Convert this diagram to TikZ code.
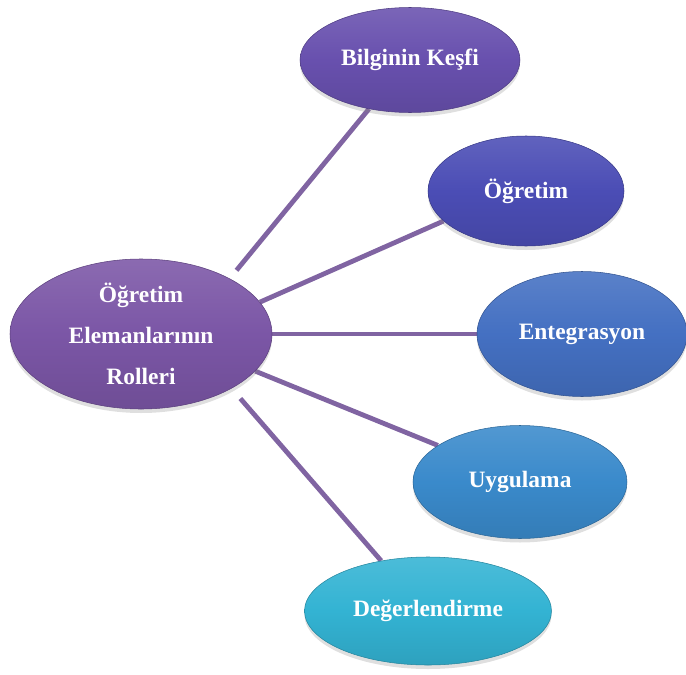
\documentclass[tikz,border=0pt]{standalone}
\usepackage{fontspec}
\setmainfont{Liberation Serif}
\usetikzlibrary{shapes,shadows,backgrounds}

\definecolor{rolecol}{HTML}{7B56A6}
\definecolor{bilgicol}{HTML}{6850AE}
\definecolor{ogrcol}{HTML}{4B4DB5}
\definecolor{entcol}{HTML}{4470C2}
\definecolor{uygcol}{HTML}{3A8ACB}
\definecolor{degcol}{HTML}{33B3D3}
\definecolor{linkcol}{HTML}{8064A2}

\begin{document}
\begin{tikzpicture}[%
    x=0.75pt, y=-0.75pt,        % Work in pixels of the original figure
    ]
% -------------------------------------------------
% Box and connector styles
\tikzset{
  base/.style={ellipse, align=center, inner sep=0pt, text=white,
    font=\bfseries\fontsize{17.6}{31}\selectfont,
    drop shadow={opacity=0.25, shadow xshift=0pt, shadow yshift=-3pt}},
  role/.style={base, top color=#1!88!white, bottom color=#1!90!black,
    middle color=#1, draw=#1!75!black, line width=0.4pt},
  link/.style={draw=linkcol, line width=3.6pt}
}
\useasboundingbox (0,0) rectangle (686,675);
% -------------------------------------------------
% Start by placing the nodes
\node [role=rolecol, minimum width=196.5pt, minimum height=112.5pt] (roles) at (141,334)
  {Öğretim\\Elemanlarının\\Rolleri};
\node [role=bilgicol, minimum width=165pt, minimum height=78.75pt] (kesif) at (410,60) {Bilginin Keşfi};
\node [role=ogrcol, minimum width=147pt, minimum height=82.5pt] (ogretim) at (526,191) {Öğretim};
\node [role=entcol, minimum width=157.5pt, minimum height=93.75pt] (entegr) at (582,334) {Entegrasyon};
\node [role=uygcol, minimum width=160.5pt, minimum height=84.75pt] (uygul) at (520,482) {Uygulama};
\node [role=degcol, minimum width=185.25pt, minimum height=81pt] (deger) at (428,611) {Değerlendirme};

% -------------------------------------------------
% Connectors behind the boxes
\begin{pgfonlayer}{background}
\draw [link, shorten <=8pt] (roles.32) -- (kesif.230);
\draw [link] (roles.15) -- (ogretim.200);
\draw [link] (roles.0) -- (entegr.180);
\draw [link] (roles.-18) -- (uygul.156);
\draw [link, shorten <=10pt] (roles.-31) -- (deger.133);
\end{pgfonlayer}
% -------------------------------------------------
\end{tikzpicture}
\end{document}
